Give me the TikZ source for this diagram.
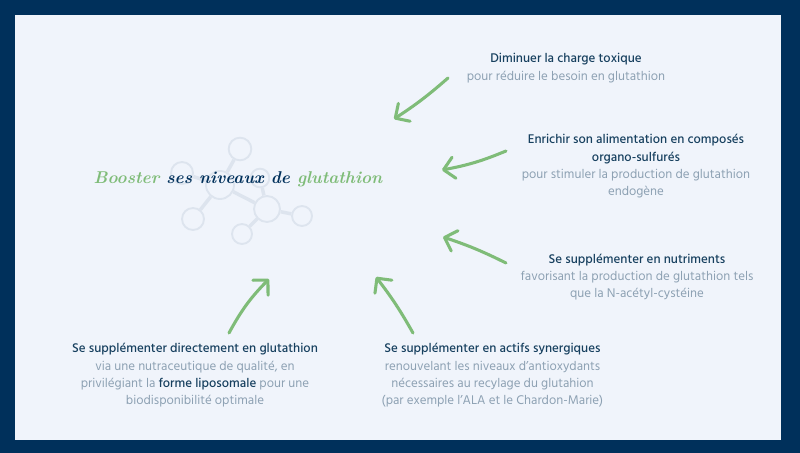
\documentclass[tikz,border=0pt]{standalone}
\usepackage{fontspec}
\setmainfont{Hind Madurai}
\newfontfamily\headfont{Hind Madurai Medium}
\newfontfamily\titlefont{Latin Modern Roman}
\usetikzlibrary{positioning}
\usetikzlibrary{arrows.meta}
\pgfdeclarelayer{moleculebg}
\pgfsetlayers{moleculebg,main}
\definecolor{navyframe}{HTML}{00305B}
\definecolor{paleback}{HTML}{F0F4FB}
\definecolor{arrowgreen}{HTML}{7FBC78}
\definecolor{headnavy}{HTML}{17405F}
\definecolor{bodygrey}{HTML}{8DA1B3}
\definecolor{atomline}{HTML}{DDE4EE}
\tikzset{
	atom/.style={circle, draw=atomline, line width=1.4pt, fill=paleback, inner sep=0pt},
	bond/.style={draw=atomline, line width=2.6pt},
	advice/.style={align=center, inner sep=0pt, text=bodygrey, font=\fontsize{9.7}{13}\selectfont},
	pointer/.style={draw=arrowgreen, line width=2.3pt, line cap=round, -{Straight Barb[length=8pt, width=16pt, line width=2.3pt, round]}},
}
\newcommand{\headline}[1]{{\headfont\textcolor{headnavy}{#1}}}
\begin{document}
\begin{tikzpicture}[x=0.75pt, y=-0.75pt]
	\useasboundingbox (0,0) rectangle (800,453);
	\begin{pgfonlayer}{moleculebg}
		\fill [navyframe] (0,0) rectangle (800,453);
		\fill [paleback] (15,15) rectangle (781,440);
	\end{pgfonlayer}

	\node [atom, minimum size=21pt] at (220,185) (bigatom) {};
	\node [atom, minimum size=19.5pt] at (267,209) (sideatom) {};
	\node [atom, minimum size=17pt] at (240,149) (topatom) {};
	\node [atom, minimum size=16.5pt] at (182,173) (leftatom) {};
	\node [atom, minimum size=14pt] at (260,178) (nearatom) {};
	\node [atom, minimum size=16.5pt] at (193,219) (lowatom) {};
	\node [atom, minimum size=15pt] at (242,234) (bottomatom) {};
	\node [atom, minimum size=15pt] at (302,216) (rightatom) {};
	\begin{pgfonlayer}{moleculebg}
		\draw [bond] (topatom)--(bigatom); \draw [bond] (leftatom)--(bigatom); \draw [bond] (lowatom)--(bigatom);
		\draw [bond] (bigatom)--(sideatom); \draw [bond] (nearatom)--(sideatom);
		\draw [bond] (bottomatom)--(sideatom); \draw [bond] (rightatom)--(sideatom);
	\end{pgfonlayer}

	\node [font=\fontsize{12.8}{20}\titlefont\bfseries\itshape, inner sep=0pt] at (238,179) (title) {\textcolor{arrowgreen}{Booster} \textcolor{navyframe}{ses niveaux de} \textcolor{arrowgreen}{glutathion}};

	\node [advice] at (566,68) (toxic) {\headline{Diminuer la charge toxique}\\pour réduire le besoin en glutathion};
	\node [advice] at (636,166.5) (sulfur) {\headline{Enrichir son alimentation en composés}\\\headline{organo-sulfurés}\\pour stimuler la production de glutathion\\endogène};
	\node [advice] at (637,277) (nutrient) {\headline{Se supplémenter en nutriments}\\favorisant la production de glutathion tels\\que la N-acétyl-cystéine};
	\node [advice] at (492.5,375.5) (synergy) {\headline{Se supplémenter en actifs synergiques}\\renouvelant les niveaux d'antioxydants\\nécessaires au recylage du glutahion\\(par exemple l'ALA et le Chardon-Marie)};
	\node [advice] at (195,375.5) (direct) {\headline{Se supplémenter directement en glutathion}\\via une nutraceutique de qualité, en\\privilégiant la \headline{forme liposomale} pour une\\biodisponibilité optimale};

	\coordinate (toxicstart) at (448,78); \coordinate (toxictip) at (394,119);
	\coordinate (sulfurstart) at (506,151); \coordinate (sulfurtip) at (442,170);
	\coordinate (nutrientstart) at (506,263); \coordinate (nutrienttip) at (443,237);
	\coordinate (synergystart) at (413,333); \coordinate (synergytip) at (376,277);
	\coordinate (directstart) at (229,333); \coordinate (directtip) at (269,279);

	\draw [pointer] (toxicstart) to [bend left=4] (toxictip);
	\draw [pointer] (sulfurstart) to [bend left=6] (sulfurtip);
	\draw [pointer] (nutrientstart) to [bend right=4] (nutrienttip);
	\draw [pointer] (synergystart) to [bend right=4] (synergytip);
	\draw [pointer] (directstart) to [bend left=8] (directtip);
\end{tikzpicture}
\end{document}
